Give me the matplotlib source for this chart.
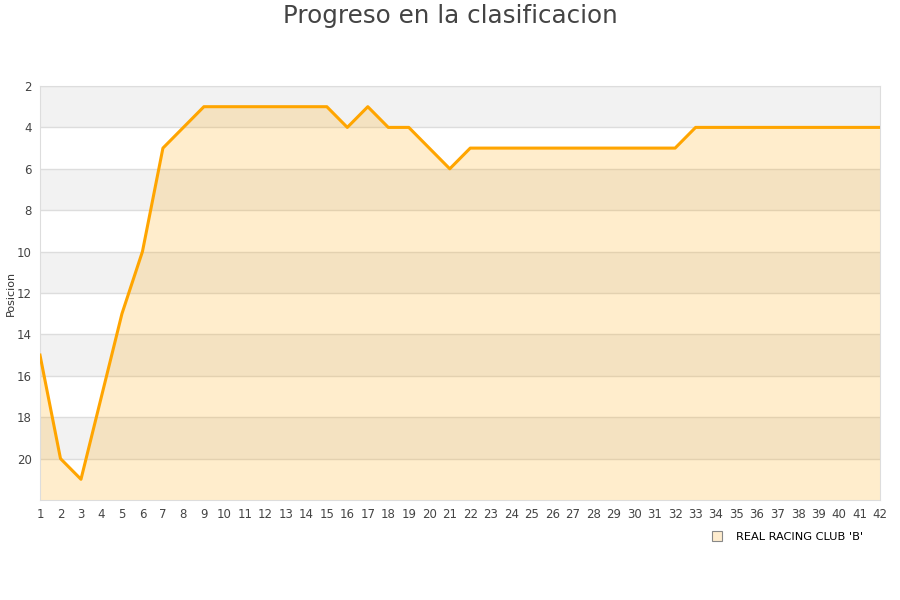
import matplotlib
matplotlib.use('Agg')
import matplotlib.pyplot as plt
from matplotlib.lines import Line2D

# datos
jornadas = list(range(1, 43))
posiciones = [15, 20, 21, 17, 13, 10, 5, 4, 3, 3,
              3, 3, 3, 3, 3, 4, 3, 4, 4, 5,
              6, 5, 5, 5, 5, 5, 5, 5, 5, 5,
              5, 5, 4, 4, 4, 4, 4, 4, 4, 4,
              4, 4]
y_ticks = list(range(2, 21, 2))
equipo = "REAL RACING CLUB 'B'"

fig = plt.figure(figsize=(9, 6), dpi=100)
ax = fig.add_axes([40 / 900, 1 - 500 / 600, 840 / 900, 414 / 600])

# bandas grises alternas
for y0 in range(2, 22, 4):
    ax.axhspan(y0, y0 + 2, color='#f2f2f2', zorder=0, lw=0)

for t in y_ticks:
    ax.axhline(t, color='#dddddd', lw=1, zorder=1)

ax.fill_between(jornadas, posiciones, 22, color='#FFA500', alpha=0.2, lw=0, zorder=2)
ax.plot(jornadas, posiciones, color='#FFA500', lw=2.2, zorder=3)

ax.set_xlim(1, 42)
ax.set_ylim(22, 2)
ax.set_xticks(jornadas)
ax.set_yticks(y_ticks)
ax.tick_params(length=0, labelsize=8.5, colors='#444444', pad=6)
for s in ax.spines.values():
    s.set_color('#dddddd')

fig.text(11 / 900, 1 - 293 / 600, 'Posicion', rotation=90, ha='center', va='center',
         fontsize=8, color='#333333')

fig.text(0.5, 1 - 16 / 600, 'Progreso en la clasificacion', ha='center', va='center',
         fontsize=17.7, color='#444444')

handle = Line2D([], [], marker='s', ls='none', markersize=7,
                markerfacecolor='#feecce', markeredgecolor='#888888', markeredgewidth=0.8)
fig.legend([handle], [equipo], loc='center right', bbox_to_anchor=(873 / 900, 1 - 537 / 600),
           frameon=False, fontsize=8.2, handletextpad=0.6)

fig.savefig('out.png', dpi=100)
